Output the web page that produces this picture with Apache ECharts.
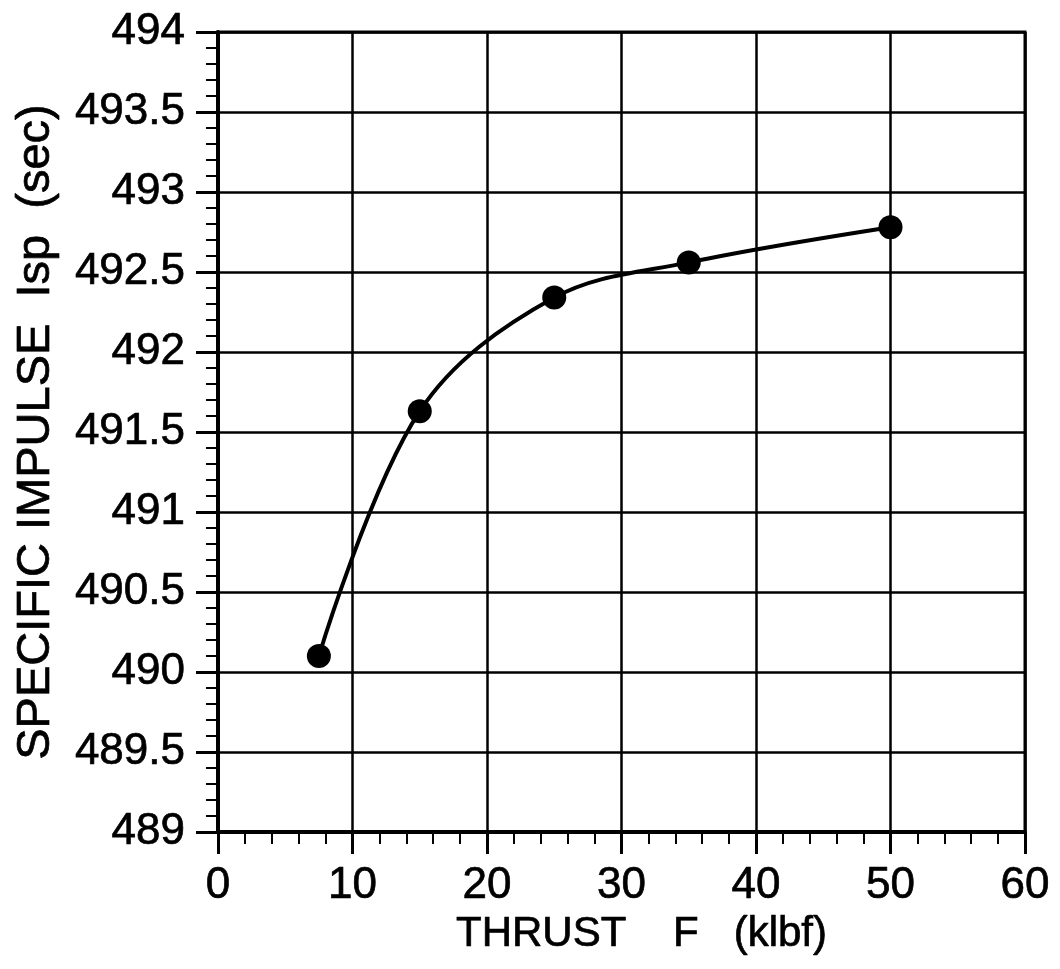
<!DOCTYPE html>
<html>
<head>
<meta charset="utf-8">
<script src="https://cdn.jsdelivr.net/npm/echarts@6/dist/echarts.min.js"></script>
<style>
  html, body { margin: 0; padding: 0; background: #fff; }
  #chart { width: 1060px; height: 969px; }
</style>
</head>
<body>
<div id="chart"></div>
<script>
// Thrust (klbf) against specific impulse (sec)
const thrust = [7.5, 15, 25, 35, 50];
const isp = [490.1, 491.63, 492.34, 492.56, 492.78];

const xTitle = 'THRUST    F   (klbf)';
const yTitle = 'SPECIFIC IMPULSE  Isp  (sec)';

const font = '"Liberation Sans", Arial, Helvetica, sans-serif';
const ink = '#000';

// slightly heavier strokes on the type, like photocopied Helvetica
const textWeight = { textBorderColor: ink, textBorderWidth: 0.7 };

const chart = echarts.init(document.getElementById('chart'), null, { renderer: 'canvas' });

chart.setOption({
  backgroundColor: '#fff',
  animation: false,
  grid: { left: 218, top: 32, right: 35, bottom: 137, containLabel: false,
          show: true, borderColor: ink, borderWidth: 3 },
  xAxis: {
    type: 'value', min: 0, max: 60, interval: 10,
    name: xTitle, nameLocation: 'middle', nameGap: 80,
    nameTextStyle: Object.assign({ fontFamily: font, fontSize: 42, color: ink,
                                   padding: [0, 0, 0, 40] }, textWeight),
    axisLine: { show: true, lineStyle: { color: ink, width: 4 } },
    axisTick: { show: true, inside: false, length: 22, lineStyle: { color: ink, width: 3 } },
    minorTick: { show: true, splitNumber: 5, length: 12, lineStyle: { color: ink, width: 2 } },
    axisLabel: Object.assign({ fontFamily: font, fontSize: 44, color: ink, margin: 32 }, textWeight),
    splitLine: { show: true, lineStyle: { color: ink, width: 2.5 } }
  },
  yAxis: {
    type: 'value', min: 489, max: 494, interval: 0.5,
    name: yTitle, nameLocation: 'middle', nameGap: 158, nameRotate: 90,
    nameTextStyle: Object.assign({ fontFamily: font, fontSize: 47, color: ink }, textWeight),
    axisLine: { show: true, lineStyle: { color: ink, width: 4 } },
    axisTick: { show: true, inside: false, length: 22, lineStyle: { color: ink, width: 3 } },
    minorTick: { show: true, splitNumber: 5, length: 12, lineStyle: { color: ink, width: 2 } },
    axisLabel: Object.assign({ fontFamily: font, fontSize: 44, color: ink, margin: 33 }, textWeight),
    splitLine: { show: true, lineStyle: { color: ink, width: 2.5 } }
  },
  series: [{
    type: 'line',
    data: thrust.map((x, i) => [x, isp[i]]),
    smooth: 0.35,
    symbol: 'circle', symbolSize: 24,
    lineStyle: { color: ink, width: 4 },
    itemStyle: { color: ink }
  }]
});
</script>
</body>
</html>
